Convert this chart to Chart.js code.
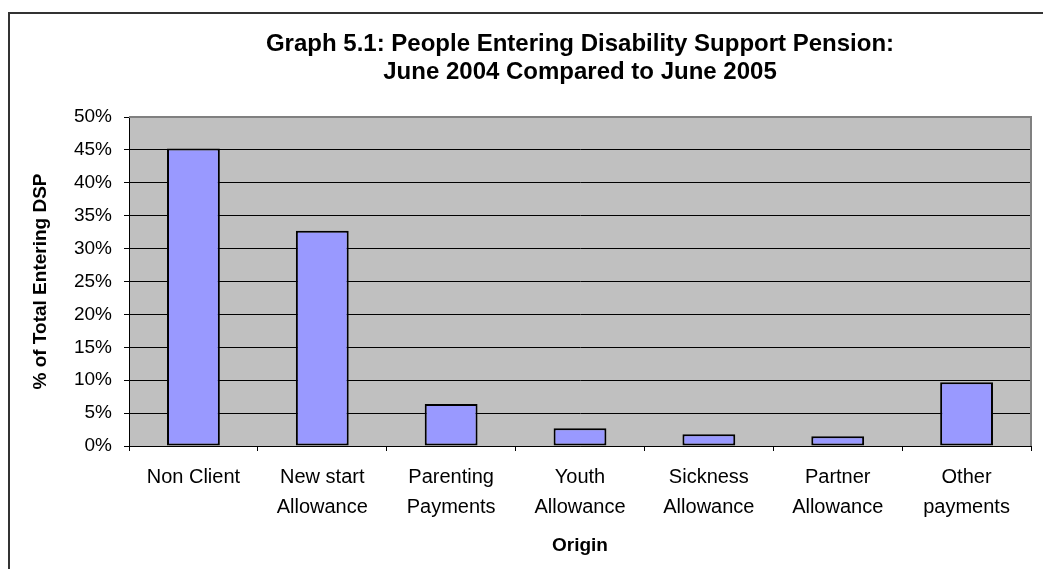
<!DOCTYPE html>
<html lang="en">
<head>
    <meta charset="UTF-8">
    <title>Graph 5.1: People Entering Disability Support Pension</title>
    <script src="https://cdn.jsdelivr.net/npm/chart.js"></script>
    <style>
        body { margin: 0; background: #fff; }
        canvas { display: block; }
    </style>
</head>
<body>
    <canvas id="dspChart" width="1043" height="569"></canvas>
    <script>
        const categories = [
            ['Non Client'],
            ['New start', 'Allowance'],
            ['Parenting', 'Payments'],
            ['Youth', 'Allowance'],
            ['Sickness', 'Allowance'],
            ['Partner', 'Allowance'],
            ['Other', 'payments']
        ];
        const shareEntering = [45.2, 32.7, 6.4, 2.7, 1.8, 1.5, 9.7];
        const yTickMax = 50;
        const yTickStep = 5;
        const titleLines = ['Graph 5.1: People Entering Disability Support Pension:', 'June 2004 Compared to June 2005'];

        const FONT = '"Liberation Sans", Arial, sans-serif';
        Chart.defaults.font.family = FONT;
        Chart.defaults.color = '#000';

        // white page, grey plot area and the outer frame line
        const backdrop = {
            id: 'backdrop',
            beforeDraw(chart) {
                const { ctx, chartArea: a } = chart;
                ctx.save();
                ctx.fillStyle = '#fff';
                ctx.fillRect(0, 0, chart.width, chart.height);
                ctx.fillStyle = '#c0c0c0';
                ctx.fillRect(a.left, a.top, a.right - a.left, a.bottom - a.top);
                ctx.strokeStyle = '#333';
                ctx.lineWidth = 2;
                ctx.beginPath();
                ctx.moveTo(9, chart.height);
                ctx.lineTo(9, 13);
                ctx.lineTo(chart.width, 13);
                ctx.stroke();
                ctx.restore();
            },
            afterDatasetsDraw(chart) {
                const { ctx, chartArea: a } = chart;
                ctx.save();
                ctx.strokeStyle = '#808080';
                ctx.lineWidth = 2;
                ctx.beginPath();
                ctx.moveTo(a.left, a.top);
                ctx.lineTo(a.right, a.top);
                ctx.lineTo(a.right, a.bottom);
                ctx.stroke();
                ctx.restore();
            }
        };

        new Chart(document.getElementById('dspChart'), {
            type: 'bar',
            data: {
                labels: categories,
                datasets: [{
                    label: '% of Total Entering DSP',
                    data: shareEntering,
                    backgroundColor: '#9999ff',
                    borderColor: '#000',
                    borderWidth: 2,
                    borderSkipped: false,
                    categoryPercentage: 1,
                    barPercentage: 0.41
                }]
            },
            options: {
                responsive: false,
                animation: false,
                layout: { padding: { left: 10, right: 12, top: 0, bottom: 0 } },
                plugins: {
                    legend: { display: false },
                    tooltip: { enabled: false },
                    title: {
                        display: true,
                        fullSize: false, // centre over the plot area like the original
                        text: titleLines,
                        font: { size: 24, weight: 'bold', lineHeight: '28px' },
                        padding: { top: 30, bottom: 31 }
                    }
                },
                scales: {
                    x: {
                        offset: true,
                        grid: { offset: true, drawOnChartArea: false, color: '#000', tickLength: 5 },
                        border: { color: '#000', width: 1 },
                        ticks: { font: { size: 20, lineHeight: '30px' }, padding: 11, maxRotation: 0, autoSkip: false },
                        title: {
                            display: true,
                            text: 'Origin',
                            font: { size: 19, weight: 'bold', lineHeight: 1.2 },
                            padding: { top: 0, bottom: 12 }
                        },
                        afterFit(scale) { scale.height = 123; }
                    },
                    y: {
                        min: 0,
                        max: yTickMax,
                        grid: { color: '#000', tickLength: 5 },
                        border: { color: '#000', width: 1 },
                        ticks: {
                            stepSize: yTickStep,
                            font: { size: 19 },
                            padding: 12,
                            callback: v => v + '%'
                        },
                        title: {
                            display: true,
                            text: '% of Total Entering DSP',
                            font: { size: 19, weight: 'bold', lineHeight: 1.2 },
                            padding: { top: 19, bottom: 0 }
                        },
                        afterFit(scale) { scale.width = 119; }
                    }
                }
            },
            plugins: [backdrop]
        });
    </script>
</body>
</html>
